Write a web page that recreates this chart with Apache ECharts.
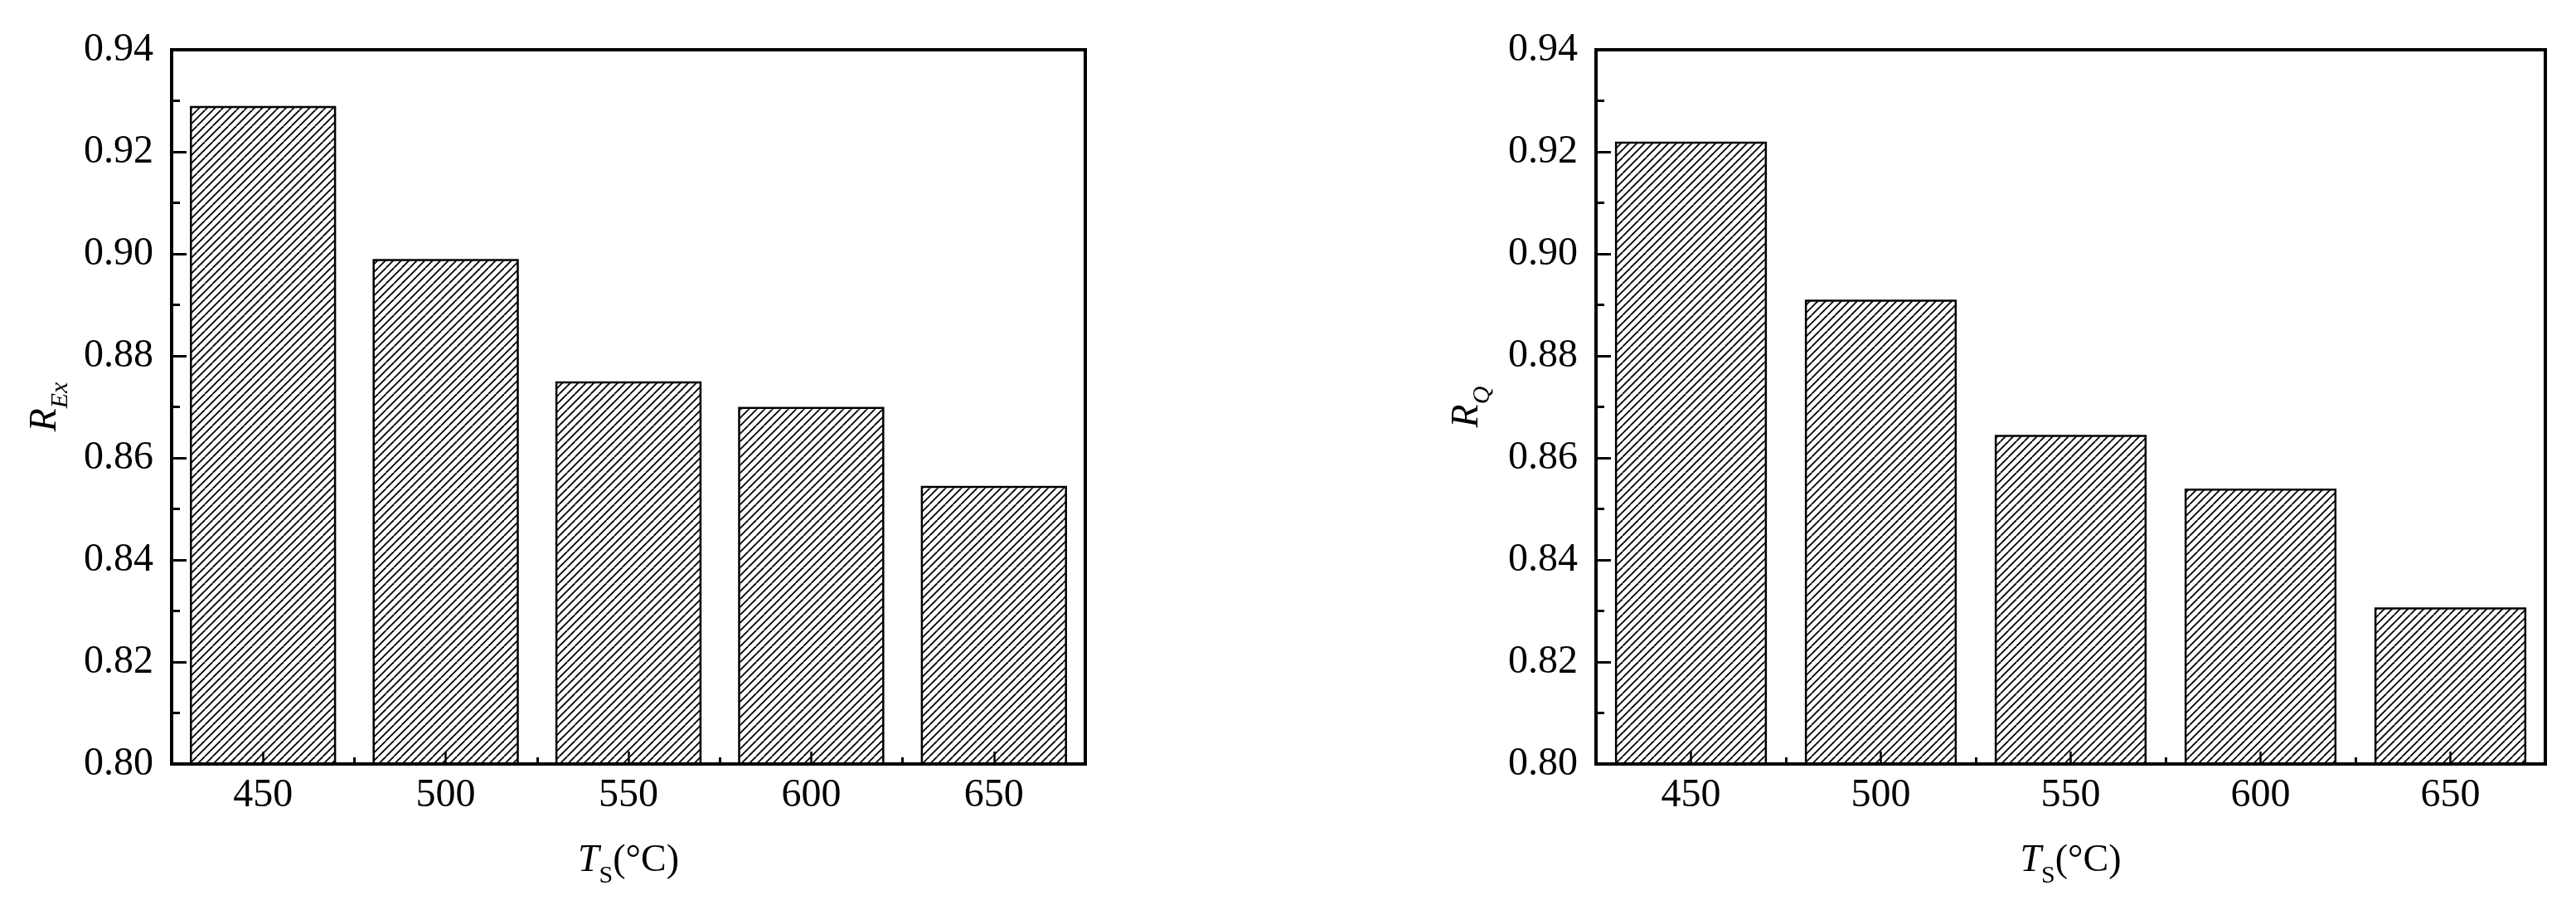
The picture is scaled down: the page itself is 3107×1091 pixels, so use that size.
<!DOCTYPE html>
<html>
<head>
<meta charset="utf-8">
<style>
  html, body { margin: 0; padding: 0; background: #fff; }
  #chart { width: 3107px; height: 1091px; }
</style>
<script src="https://cdn.jsdelivr.net/npm/echarts@6.0.0/dist/echarts.min.js"></script>
</head>
<body>
<div id="chart"></div>
<script>
// ---- data ----
const categories = ['450', '500', '550', '600', '650'];
const rEx = [0.929, 0.899, 0.875, 0.870, 0.8545];
const rQ = [0.922, 0.891, 0.8645, 0.854, 0.8307];
const yMin = 0.80, yMax = 0.94, yStep = 0.02;

// ---- hatch pattern ----
function makeHatch() {
  const s = 19, p = 9.5;
  const c = document.createElement('canvas');
  c.width = s; c.height = s;
  const ctx = c.getContext('2d');
  ctx.fillStyle = '#fff';
  ctx.fillRect(0, 0, s, s);
  ctx.strokeStyle = '#000';
  ctx.lineWidth = 1.8;
  for (let a = -2 * s; a <= 2 * s; a += p) {
    ctx.beginPath();
    ctx.moveTo(a, s);
    ctx.lineTo(a + s, 0);
    ctx.stroke();
  }
  return c;
}
const hatch = { image: makeHatch(), repeat: 'repeat' };

const FONT = "'Liberation Serif', 'Times New Roman', serif";
const black = '#000';

function titleRich() {
  return {
    i: { fontFamily: FONT, fontStyle: 'italic', fontSize: 46, lineHeight: 66, color: black },
    n: { fontFamily: FONT, fontSize: 46, lineHeight: 66, color: black },
    s: { fontFamily: FONT, fontSize: 30, lineHeight: 27, verticalAlign: 'bottom', color: black },
    si: { fontFamily: FONT, fontStyle: 'italic', fontSize: 30, lineHeight: 27, verticalAlign: 'bottom', color: black }
  };
}

const grids = [
  { left: 207, top: 60, width: 1102, height: 861 },
  { left: 1925, top: 60, width: 1145, height: 861 }
];

const xAxes = [], yAxes = [], series = [];
const panels = [
  { data: rEx, yName: '{i|R}{si|Ex}', yGap: 119 },
  { data: rQ, yName: '{i|R}{si|Q}', yGap: 122 }
];

panels.forEach((pn, gi) => {
  const xi = xAxes.length;
  // main category axis: labels + boundary ticks
  xAxes.push({
    type: 'category', gridIndex: gi, position: 'bottom', data: categories, z: 10,
    boundaryGap: true,
    axisLine: { show: true, lineStyle: { color: black, width: 4, cap: 'square' } },
    axisTick: { show: true, inside: true, length: 8, alignWithLabel: false, lineStyle: { color: black, width: 3 } },
    axisLabel: { show: true, margin: 14, fontFamily: FONT, fontSize: 48, color: black },
    splitLine: { show: false },
    name: '{i|T}{s|S}{n|(°C)}', nameLocation: 'middle', nameGap: 84,
    nameTextStyle: { rich: titleRich() }
  });
  // center ticks
  xAxes.push({
    type: 'category', gridIndex: gi, position: 'bottom', data: categories, z: 10,
    boundaryGap: true,
    axisLine: { show: false },
    axisTick: { show: true, inside: true, length: 15, alignWithLabel: true, lineStyle: { color: black, width: 2.5 } },
    axisLabel: { show: false },
    splitLine: { show: false }
  });
  // top frame
  xAxes.push({
    type: 'category', gridIndex: gi, position: 'top', data: categories, z: 10,
    axisLine: { show: true, lineStyle: { color: black, width: 4, cap: 'square' } },
    axisTick: { show: false }, axisLabel: { show: false }, splitLine: { show: false }
  });
  const yi = yAxes.length;
  yAxes.push({
    type: 'value', gridIndex: gi, position: 'left', min: yMin, max: yMax, interval: yStep, z: 10,
    axisLine: { show: true, lineStyle: { color: black, width: 4, cap: 'square' } },
    axisTick: { show: true, inside: true, length: 18, lineStyle: { color: black, width: 3 } },
    minorTick: { show: true, splitNumber: 2, length: 10, lineStyle: { color: black, width: 3 } },
    axisLabel: { show: true, margin: 22, fontFamily: FONT, fontSize: 48, color: black,
                 formatter: v => v.toFixed(2) },
    splitLine: { show: false },
    name: pn.yName, nameLocation: 'middle', nameRotate: 90, nameGap: pn.yGap,
    nameTextStyle: { rich: titleRich() }
  });
  yAxes.push({
    type: 'value', gridIndex: gi, position: 'right', min: yMin, max: yMax, interval: yStep, z: 10,
    axisLine: { show: true, lineStyle: { color: black, width: 4, cap: 'square' } },
    axisTick: { show: false }, axisLabel: { show: false }, splitLine: { show: false }
  });
  series.push({
    type: 'bar', xAxisIndex: xi, yAxisIndex: yi, data: pn.data,
    barWidth: '80%',
    itemStyle: { color: hatch, borderColor: black, borderWidth: 2.5 },
    emphasis: { disabled: true },
    animation: false
  });
});

const chart = echarts.init(document.getElementById('chart'), null, { renderer: 'canvas' });
chart.setOption({
  backgroundColor: '#fff',
  animation: false,
  grid: grids.map(g => Object.assign({ containLabel: false, outerBoundsMode: 'none' }, g)),
  xAxis: xAxes,
  yAxis: yAxes,
  series: series
});
</script>
</body>
</html>
